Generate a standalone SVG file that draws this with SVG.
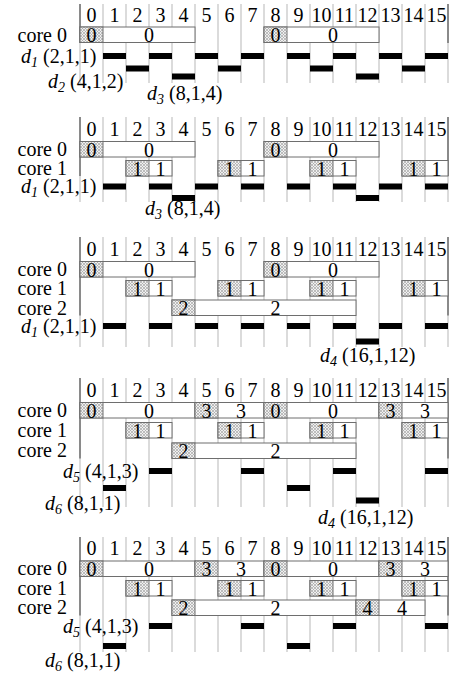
<svg xmlns="http://www.w3.org/2000/svg" width="453" height="679" viewBox="0 0 453 679">
<style>
text{font-family:"Liberation Serif","Times New Roman",serif;font-size:20px;fill:#000}
.hd{text-anchor:middle}
.c{text-anchor:middle}
.cl{text-anchor:end}
.grid{stroke:#cfcfcf;stroke-width:1.5;fill:none}
.axis{stroke:#707070;stroke-width:1.5;fill:none}
.box{fill:#fff;stroke:#6e6e6e;stroke-width:1}
.hat{fill:url(#hatch);stroke:#6e6e6e;stroke-width:1}
.bar{fill:#000}
.it{font-style:italic}
.sub{font-style:italic;font-size:14px}
</style>
<defs>
<pattern id="hatch" width="3" height="3" patternUnits="userSpaceOnUse">
<rect width="3" height="3" fill="#efefef"/>
<path d="M0,0L3,3M3,0L0,3" stroke="#a8a8a8" stroke-width="0.7"/>
</pattern>
</defs>

<!-- ============ PANEL 1 ============ -->
<g id="panel1">
<g id="p1-grid" class="connectors">
<path class="grid" d="M80,4V83M103,4V83M126,4V83M149,4V83M172,4V83M195,4V83M218,4V83M241,4V83M264,4V83M287,4V83M310,4V83M333,4V83M356,4V83M379,4V83M402,4V83M425,4V83M448,4V83"/>
<path class="axis" d="M80,4V43M448,4V43"/>
</g>
<g id="p1-header">
<text class="hd" x="91.5" y="21.5">0</text><text class="hd" x="114.5" y="21.5">1</text><text class="hd" x="137.5" y="21.5">2</text><text class="hd" x="160.5" y="21.5">3</text><text class="hd" x="183.5" y="21.5">4</text><text class="hd" x="206.5" y="21.5">5</text><text class="hd" x="229.5" y="21.5">6</text><text class="hd" x="252.5" y="21.5">7</text><text class="hd" x="275.5" y="21.5">8</text><text class="hd" x="298.5" y="21.5">9</text><text class="hd" x="321.5" y="21.5">10</text><text class="hd" x="344.5" y="21.5">11</text><text class="hd" x="367.5" y="21.5">12</text><text class="hd" x="390.5" y="21.5">13</text><text class="hd" x="413.5" y="21.5">14</text><text class="hd" x="436.5" y="21.5">15</text>
</g>
<text class="cl" x="67" y="41.5">core 0</text>
<g id="p1-c0-t1"><rect class="box" x="80" y="27" width="115" height="15.5"/><rect class="hat" x="80" y="27" width="23" height="15.5"/><text class="c" x="91.5" y="42">0</text><text class="c" x="149" y="42">0</text></g>
<g id="p1-c0-t2"><rect class="box" x="264" y="27" width="115" height="15.5"/><rect class="hat" x="264" y="27" width="23" height="15.5"/><text class="c" x="275.5" y="42">0</text><text class="c" x="333" y="42">0</text></g>
<g id="p1-d1"><rect class="bar" x="103" y="53" width="23" height="6"/><rect class="bar" x="149" y="53" width="23" height="6"/><rect class="bar" x="195" y="53" width="23" height="6"/><rect class="bar" x="241" y="53" width="23" height="6"/><rect class="bar" x="287" y="53" width="23" height="6"/><rect class="bar" x="333" y="53" width="23" height="6"/><rect class="bar" x="379" y="53" width="23" height="6"/><rect class="bar" x="425" y="53" width="23" height="6"/></g>
<g id="p1-d2"><rect class="bar" x="126" y="65.5" width="23" height="6"/><rect class="bar" x="218" y="65.5" width="23" height="6"/><rect class="bar" x="310" y="65.5" width="23" height="6"/><rect class="bar" x="402" y="65.5" width="23" height="6"/></g>
<g id="p1-d3"><rect class="bar" x="172" y="73.5" width="23" height="6"/><rect class="bar" x="356" y="73.5" width="23" height="6"/></g>
<text x="21" y="62.5"><tspan class="it">d</tspan><tspan class="sub" dy="4">1</tspan><tspan dy="-4"> (2,1,1)</tspan></text>
<text x="48" y="87.5"><tspan class="it">d</tspan><tspan class="sub" dy="4">2</tspan><tspan dy="-4"> (4,1,2)</tspan></text>
<text x="147" y="99.5"><tspan class="it">d</tspan><tspan class="sub" dy="4">3</tspan><tspan dy="-4"> (8,1,4)</tspan></text>
</g>

<!-- ============ PANEL 2 ============ -->
<g id="panel2">
<g id="p2-grid" class="connectors">
<path class="grid" d="M80,117V202M103,117V202M126,117V202M149,117V202M172,117V202M195,117V202M218,117V202M241,117V202M264,117V202M287,117V202M310,117V202M333,117V202M356,117V202M379,117V202M402,117V202M425,117V202M448,117V202"/>
<path class="axis" d="M80,117V176M448,117V176"/>
</g>
<g id="p2-header">
<text class="hd" x="91.5" y="135.5">0</text><text class="hd" x="114.5" y="135.5">1</text><text class="hd" x="137.5" y="135.5">2</text><text class="hd" x="160.5" y="135.5">3</text><text class="hd" x="183.5" y="135.5">4</text><text class="hd" x="206.5" y="135.5">5</text><text class="hd" x="229.5" y="135.5">6</text><text class="hd" x="252.5" y="135.5">7</text><text class="hd" x="275.5" y="135.5">8</text><text class="hd" x="298.5" y="135.5">9</text><text class="hd" x="321.5" y="135.5">10</text><text class="hd" x="344.5" y="135.5">11</text><text class="hd" x="367.5" y="135.5">12</text><text class="hd" x="390.5" y="135.5">13</text><text class="hd" x="413.5" y="135.5">14</text><text class="hd" x="436.5" y="135.5">15</text>
</g>
<text class="cl" x="67" y="155.5">core 0</text>
<text class="cl" x="67" y="175">core 1</text>
<g id="p2-c0-t1"><rect class="box" x="80" y="141.5" width="115" height="15.5"/><rect class="hat" x="80" y="141.5" width="23" height="15.5"/><text class="c" x="91.5" y="156.5">0</text><text class="c" x="149" y="156.5">0</text></g>
<g id="p2-c0-t2"><rect class="box" x="264" y="141.5" width="115" height="15.5"/><rect class="hat" x="264" y="141.5" width="23" height="15.5"/><text class="c" x="275.5" y="156.5">0</text><text class="c" x="333" y="156.5">0</text></g>
<g id="p2-c1-t1"><rect class="box" x="126" y="160.5" width="46" height="15.5"/><rect class="hat" x="126" y="160.5" width="23" height="15.5"/><text class="c" x="137.5" y="175.5">1</text><text class="c" x="160.5" y="175.5">1</text></g>
<g id="p2-c1-t2"><rect class="box" x="218" y="160.5" width="46" height="15.5"/><rect class="hat" x="218" y="160.5" width="23" height="15.5"/><text class="c" x="229.5" y="175.5">1</text><text class="c" x="252.5" y="175.5">1</text></g>
<g id="p2-c1-t3"><rect class="box" x="310" y="160.5" width="46" height="15.5"/><rect class="hat" x="310" y="160.5" width="23" height="15.5"/><text class="c" x="321.5" y="175.5">1</text><text class="c" x="344.5" y="175.5">1</text></g>
<g id="p2-c1-t4"><rect class="box" x="402" y="160.5" width="46" height="15.5"/><rect class="hat" x="402" y="160.5" width="23" height="15.5"/><text class="c" x="413.5" y="175.5">1</text><text class="c" x="436.5" y="175.5">1</text></g>
<g id="p2-d1"><rect class="bar" x="103" y="183.5" width="23" height="6"/><rect class="bar" x="149" y="183.5" width="23" height="6"/><rect class="bar" x="195" y="183.5" width="23" height="6"/><rect class="bar" x="241" y="183.5" width="23" height="6"/><rect class="bar" x="287" y="183.5" width="23" height="6"/><rect class="bar" x="333" y="183.5" width="23" height="6"/><rect class="bar" x="379" y="183.5" width="23" height="6"/><rect class="bar" x="425" y="183.5" width="23" height="6"/></g>
<g id="p2-d3"><rect class="bar" x="172" y="195" width="23" height="6"/><rect class="bar" x="356" y="195" width="23" height="6"/></g>
<text x="21" y="192.5"><tspan class="it">d</tspan><tspan class="sub" dy="4">1</tspan><tspan dy="-4"> (2,1,1)</tspan></text>
<text x="145" y="214.5"><tspan class="it">d</tspan><tspan class="sub" dy="4">3</tspan><tspan dy="-4"> (8,1,4)</tspan></text>
</g>

<!-- ============ PANEL 3 ============ -->
<g id="panel3">
<g id="p3-grid" class="connectors">
<path class="grid" d="M80,237V347M103,237V347M126,237V347M149,237V347M172,237V347M195,237V347M218,237V347M241,237V347M264,237V347M287,237V347M310,237V347M333,237V347M356,237V347M379,237V347M402,237V347M425,237V347M448,237V347"/>
<path class="axis" d="M80,237V315.5M448,237V315.5"/>
</g>
<g id="p3-header">
<text class="hd" x="91.5" y="255.5">0</text><text class="hd" x="114.5" y="255.5">1</text><text class="hd" x="137.5" y="255.5">2</text><text class="hd" x="160.5" y="255.5">3</text><text class="hd" x="183.5" y="255.5">4</text><text class="hd" x="206.5" y="255.5">5</text><text class="hd" x="229.5" y="255.5">6</text><text class="hd" x="252.5" y="255.5">7</text><text class="hd" x="275.5" y="255.5">8</text><text class="hd" x="298.5" y="255.5">9</text><text class="hd" x="321.5" y="255.5">10</text><text class="hd" x="344.5" y="255.5">11</text><text class="hd" x="367.5" y="255.5">12</text><text class="hd" x="390.5" y="255.5">13</text><text class="hd" x="413.5" y="255.5">14</text><text class="hd" x="436.5" y="255.5">15</text>
</g>
<text class="cl" x="67" y="275.5">core 0</text>
<text class="cl" x="67" y="295">core 1</text>
<text class="cl" x="67" y="314.5">core 2</text>
<g id="p3-c0-t1"><rect class="box" x="80" y="261.5" width="115" height="15.5"/><rect class="hat" x="80" y="261.5" width="23" height="15.5"/><text class="c" x="91.5" y="276.5">0</text><text class="c" x="149" y="276.5">0</text></g>
<g id="p3-c0-t2"><rect class="box" x="264" y="261.5" width="115" height="15.5"/><rect class="hat" x="264" y="261.5" width="23" height="15.5"/><text class="c" x="275.5" y="276.5">0</text><text class="c" x="333" y="276.5">0</text></g>
<g id="p3-c1-t1"><rect class="box" x="126" y="280.5" width="46" height="15.5"/><rect class="hat" x="126" y="280.5" width="23" height="15.5"/><text class="c" x="137.5" y="295.5">1</text><text class="c" x="160.5" y="295.5">1</text></g>
<g id="p3-c1-t2"><rect class="box" x="218" y="280.5" width="46" height="15.5"/><rect class="hat" x="218" y="280.5" width="23" height="15.5"/><text class="c" x="229.5" y="295.5">1</text><text class="c" x="252.5" y="295.5">1</text></g>
<g id="p3-c1-t3"><rect class="box" x="310" y="280.5" width="46" height="15.5"/><rect class="hat" x="310" y="280.5" width="23" height="15.5"/><text class="c" x="321.5" y="295.5">1</text><text class="c" x="344.5" y="295.5">1</text></g>
<g id="p3-c1-t4"><rect class="box" x="402" y="280.5" width="46" height="15.5"/><rect class="hat" x="402" y="280.5" width="23" height="15.5"/><text class="c" x="413.5" y="295.5">1</text><text class="c" x="436.5" y="295.5">1</text></g>
<g id="p3-c2-t1"><rect class="box" x="172" y="300" width="184" height="15.5"/><rect class="hat" x="172" y="300" width="23" height="15.5"/><text class="c" x="183.5" y="315">2</text><text class="c" x="275.5" y="315">2</text></g>
<g id="p3-d1"><rect class="bar" x="103" y="323" width="23" height="6"/><rect class="bar" x="149" y="323" width="23" height="6"/><rect class="bar" x="195" y="323" width="23" height="6"/><rect class="bar" x="241" y="323" width="23" height="6"/><rect class="bar" x="287" y="323" width="23" height="6"/><rect class="bar" x="333" y="323" width="23" height="6"/><rect class="bar" x="379" y="323" width="23" height="6"/><rect class="bar" x="425" y="323" width="23" height="6"/></g>
<g id="p3-d4"><rect class="bar" x="356" y="338.5" width="23" height="6"/></g>
<text x="21" y="332.5"><tspan class="it">d</tspan><tspan class="sub" dy="4">1</tspan><tspan dy="-4"> (2,1,1)</tspan></text>
<text x="320" y="361.5"><tspan class="it">d</tspan><tspan class="sub" dy="4">4</tspan><tspan dy="-4"> (16,1,12)</tspan></text>
</g>

<!-- ============ PANEL 4 ============ -->
<g id="panel4">
<g id="p4-grid" class="connectors">
<path class="grid" d="M80,378V507M103,378V507M126,378V507M149,378V507M172,378V507M195,378V507M218,378V507M241,378V507M264,378V507M287,378V507M310,378V507M333,378V507M356,378V507M379,378V507M402,378V507M425,378V507M448,378V507"/>
<path class="axis" d="M80,378V458.5M448,378V458.5"/>
</g>
<g id="p4-header">
<text class="hd" x="91.5" y="396.5">0</text><text class="hd" x="114.5" y="396.5">1</text><text class="hd" x="137.5" y="396.5">2</text><text class="hd" x="160.5" y="396.5">3</text><text class="hd" x="183.5" y="396.5">4</text><text class="hd" x="206.5" y="396.5">5</text><text class="hd" x="229.5" y="396.5">6</text><text class="hd" x="252.5" y="396.5">7</text><text class="hd" x="275.5" y="396.5">8</text><text class="hd" x="298.5" y="396.5">9</text><text class="hd" x="321.5" y="396.5">10</text><text class="hd" x="344.5" y="396.5">11</text><text class="hd" x="367.5" y="396.5">12</text><text class="hd" x="390.5" y="396.5">13</text><text class="hd" x="413.5" y="396.5">14</text><text class="hd" x="436.5" y="396.5">15</text>
</g>
<text class="cl" x="67" y="416.5">core 0</text>
<text class="cl" x="67" y="436.5">core 1</text>
<text class="cl" x="67" y="457">core 2</text>
<g id="p4-c0-t1"><rect class="box" x="80" y="402.5" width="115" height="15.5"/><rect class="hat" x="80" y="402.5" width="23" height="15.5"/><text class="c" x="91.5" y="417.5">0</text><text class="c" x="149" y="417.5">0</text></g>
<g id="p4-c0-t2"><rect class="box" x="195" y="402.5" width="69" height="15.5"/><rect class="hat" x="195" y="402.5" width="23" height="15.5"/><text class="c" x="206.5" y="417.5">3</text><text class="c" x="241" y="417.5">3</text></g>
<g id="p4-c0-t3"><rect class="box" x="264" y="402.5" width="115" height="15.5"/><rect class="hat" x="264" y="402.5" width="23" height="15.5"/><text class="c" x="275.5" y="417.5">0</text><text class="c" x="333" y="417.5">0</text></g>
<g id="p4-c0-t4"><rect class="box" x="379" y="402.5" width="69" height="15.5"/><rect class="hat" x="379" y="402.5" width="23" height="15.5"/><text class="c" x="390.5" y="417.5">3</text><text class="c" x="425" y="417.5">3</text></g>
<g id="p4-c1-t1"><rect class="box" x="126" y="422.5" width="46" height="15.5"/><rect class="hat" x="126" y="422.5" width="23" height="15.5"/><text class="c" x="137.5" y="437.5">1</text><text class="c" x="160.5" y="437.5">1</text></g>
<g id="p4-c1-t2"><rect class="box" x="218" y="422.5" width="46" height="15.5"/><rect class="hat" x="218" y="422.5" width="23" height="15.5"/><text class="c" x="229.5" y="437.5">1</text><text class="c" x="252.5" y="437.5">1</text></g>
<g id="p4-c1-t3"><rect class="box" x="310" y="422.5" width="46" height="15.5"/><rect class="hat" x="310" y="422.5" width="23" height="15.5"/><text class="c" x="321.5" y="437.5">1</text><text class="c" x="344.5" y="437.5">1</text></g>
<g id="p4-c1-t4"><rect class="box" x="402" y="422.5" width="46" height="15.5"/><rect class="hat" x="402" y="422.5" width="23" height="15.5"/><text class="c" x="413.5" y="437.5">1</text><text class="c" x="436.5" y="437.5">1</text></g>
<g id="p4-c2-t1"><rect class="box" x="172" y="443" width="184" height="15.5"/><rect class="hat" x="172" y="443" width="23" height="15.5"/><text class="c" x="183.5" y="458">2</text><text class="c" x="275.5" y="458">2</text></g>
<g id="p4-d5"><rect class="bar" x="149" y="468" width="23" height="6"/><rect class="bar" x="241" y="468" width="23" height="6"/><rect class="bar" x="333" y="468" width="23" height="6"/><rect class="bar" x="425" y="468" width="23" height="6"/></g>
<g id="p4-d6"><rect class="bar" x="103" y="485" width="23" height="6"/><rect class="bar" x="287" y="485" width="23" height="6"/></g>
<g id="p4-d4"><rect class="bar" x="356" y="497.5" width="23" height="6"/></g>
<text x="63" y="478"><tspan class="it">d</tspan><tspan class="sub" dy="4">5</tspan><tspan dy="-4"> (4,1,3)</tspan></text>
<text x="45" y="510"><tspan class="it">d</tspan><tspan class="sub" dy="4">6</tspan><tspan dy="-4"> (8,1,1)</tspan></text>
<text x="318" y="524"><tspan class="it">d</tspan><tspan class="sub" dy="4">4</tspan><tspan dy="-4"> (16,1,12)</tspan></text>
</g>

<!-- ============ PANEL 5 ============ -->
<g id="panel5">
<g id="p5-grid" class="connectors">
<path class="grid" d="M80,537V652M103,537V652M126,537V652M149,537V652M172,537V652M195,537V652M218,537V652M241,537V652M264,537V652M287,537V652M310,537V652M333,537V652M356,537V652M379,537V652M402,537V652M425,537V652M448,537V652"/>
<path class="axis" d="M80,537V615.5M448,537V615.5"/>
</g>
<g id="p5-header">
<text class="hd" x="91.5" y="555">0</text><text class="hd" x="114.5" y="555">1</text><text class="hd" x="137.5" y="555">2</text><text class="hd" x="160.5" y="555">3</text><text class="hd" x="183.5" y="555">4</text><text class="hd" x="206.5" y="555">5</text><text class="hd" x="229.5" y="555">6</text><text class="hd" x="252.5" y="555">7</text><text class="hd" x="275.5" y="555">8</text><text class="hd" x="298.5" y="555">9</text><text class="hd" x="321.5" y="555">10</text><text class="hd" x="344.5" y="555">11</text><text class="hd" x="367.5" y="555">12</text><text class="hd" x="390.5" y="555">13</text><text class="hd" x="413.5" y="555">14</text><text class="hd" x="436.5" y="555">15</text>
</g>
<text class="cl" x="67" y="575">core 0</text>
<text class="cl" x="67" y="594.5">core 1</text>
<text class="cl" x="67" y="614">core 2</text>
<g id="p5-c0-t1"><rect class="box" x="80" y="561" width="115" height="15.5"/><rect class="hat" x="80" y="561" width="23" height="15.5"/><text class="c" x="91.5" y="576">0</text><text class="c" x="149" y="576">0</text></g>
<g id="p5-c0-t2"><rect class="box" x="195" y="561" width="69" height="15.5"/><rect class="hat" x="195" y="561" width="23" height="15.5"/><text class="c" x="206.5" y="576">3</text><text class="c" x="241" y="576">3</text></g>
<g id="p5-c0-t3"><rect class="box" x="264" y="561" width="115" height="15.5"/><rect class="hat" x="264" y="561" width="23" height="15.5"/><text class="c" x="275.5" y="576">0</text><text class="c" x="333" y="576">0</text></g>
<g id="p5-c0-t4"><rect class="box" x="379" y="561" width="69" height="15.5"/><rect class="hat" x="379" y="561" width="23" height="15.5"/><text class="c" x="390.5" y="576">3</text><text class="c" x="425" y="576">3</text></g>
<g id="p5-c1-t1"><rect class="box" x="126" y="580.5" width="46" height="15.5"/><rect class="hat" x="126" y="580.5" width="23" height="15.5"/><text class="c" x="137.5" y="595.5">1</text><text class="c" x="160.5" y="595.5">1</text></g>
<g id="p5-c1-t2"><rect class="box" x="218" y="580.5" width="46" height="15.5"/><rect class="hat" x="218" y="580.5" width="23" height="15.5"/><text class="c" x="229.5" y="595.5">1</text><text class="c" x="252.5" y="595.5">1</text></g>
<g id="p5-c1-t3"><rect class="box" x="310" y="580.5" width="46" height="15.5"/><rect class="hat" x="310" y="580.5" width="23" height="15.5"/><text class="c" x="321.5" y="595.5">1</text><text class="c" x="344.5" y="595.5">1</text></g>
<g id="p5-c1-t4"><rect class="box" x="402" y="580.5" width="46" height="15.5"/><rect class="hat" x="402" y="580.5" width="23" height="15.5"/><text class="c" x="413.5" y="595.5">1</text><text class="c" x="436.5" y="595.5">1</text></g>
<g id="p5-c2-t1"><rect class="box" x="172" y="600" width="184" height="15.5"/><rect class="hat" x="172" y="600" width="23" height="15.5"/><text class="c" x="183.5" y="615">2</text><text class="c" x="275.5" y="615">2</text></g>
<g id="p5-c2-t2"><rect class="box" x="356" y="600" width="69" height="15.5"/><rect class="hat" x="356" y="600" width="23" height="15.5"/><text class="c" x="367.5" y="615">4</text><text class="c" x="402" y="615">4</text></g>
<g id="p5-d5"><rect class="bar" x="149" y="623" width="23" height="6"/><rect class="bar" x="241" y="623" width="23" height="6"/><rect class="bar" x="333" y="623" width="23" height="6"/><rect class="bar" x="425" y="623" width="23" height="6"/></g>
<g id="p5-d6"><rect class="bar" x="103" y="643" width="23" height="6"/><rect class="bar" x="287" y="643" width="23" height="6"/></g>
<text x="63" y="633"><tspan class="it">d</tspan><tspan class="sub" dy="4">5</tspan><tspan dy="-4"> (4,1,3)</tspan></text>
<text x="45" y="667"><tspan class="it">d</tspan><tspan class="sub" dy="4">6</tspan><tspan dy="-4"> (8,1,1)</tspan></text>
</g>
</svg>
